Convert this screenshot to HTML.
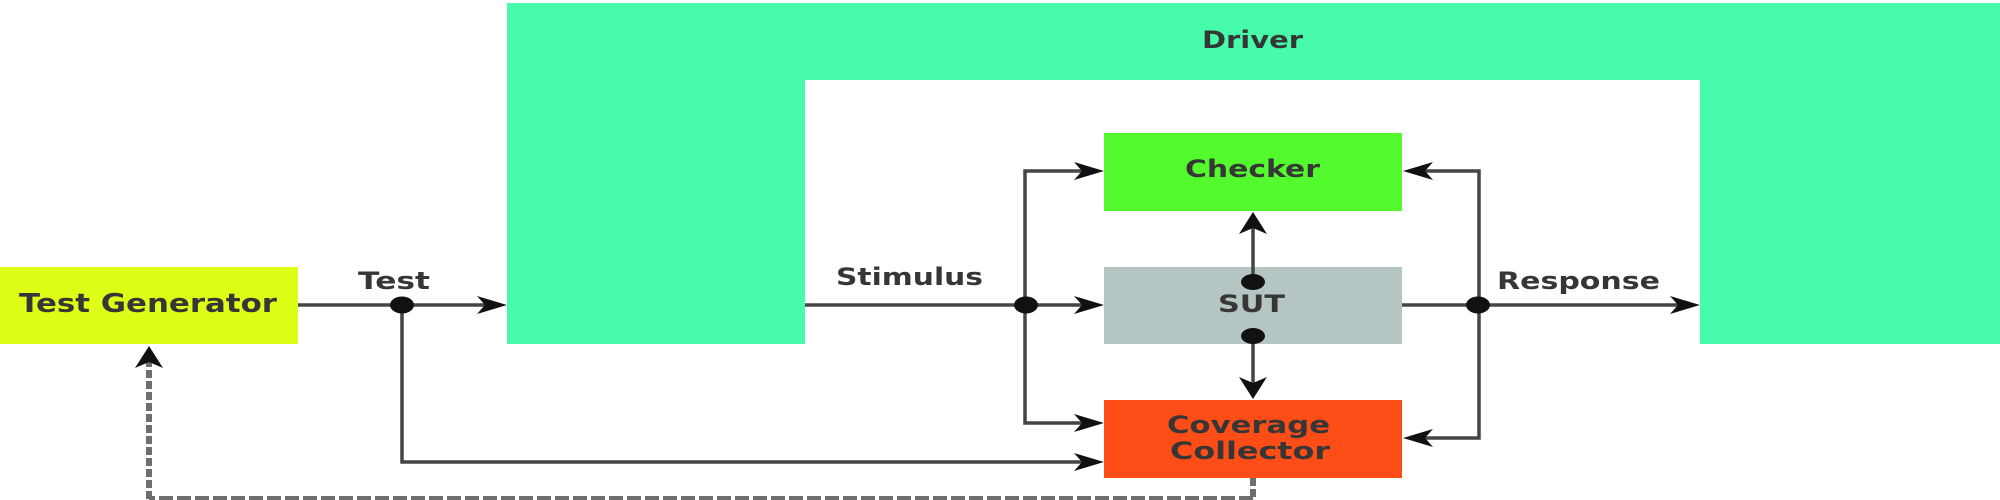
<!DOCTYPE html>
<html>
<head>
<meta charset="utf-8">
<style>
  html, body { margin: 0; padding: 0; background: #ffffff; }
  body { width: 2000px; height: 500px; overflow: hidden; }
  svg { display: block; }
  text { font-family: "DejaVu Sans", "Liberation Sans", sans-serif; font-weight: bold; fill: #363636; font-size: 24px; }
</style>
</head>
<body>
<svg width="2000" height="500" viewBox="0 0 2000 500" xmlns="http://www.w3.org/2000/svg">
  <rect x="0" y="0" width="2000" height="500" fill="#ffffff"/>

  <!-- Driver (inverted U shape) -->
  <path d="M507,3 L2000,3 L2000,344 L1700,344 L1700,80 L805,80 L805,344 L507,344 Z" fill="#46fcab"/>
  <text x="1202" y="48" textLength="101" lengthAdjust="spacingAndGlyphs">Driver</text>

  <!-- Test Generator -->
  <rect x="0" y="267" width="298" height="77" fill="#ddff17"/>
  <text x="19" y="312" textLength="258" lengthAdjust="spacingAndGlyphs" style="font-size:26px">Test Generator</text>

  <!-- Checker -->
  <rect x="1104" y="133" width="298" height="78" fill="#53fa2e"/>
  <text x="1185" y="177" textLength="135" lengthAdjust="spacingAndGlyphs">Checker</text>

  <!-- SUT -->
  <rect x="1104" y="267" width="298" height="77" fill="#b5c5c3"/>
  <text x="1218" y="312" textLength="67" lengthAdjust="spacingAndGlyphs">SUT</text>

  <!-- Coverage Collector -->
  <rect x="1104" y="400" width="298" height="78" fill="#ff4d17"/>
  <text x="1167" y="433" textLength="163" lengthAdjust="spacingAndGlyphs">Coverage</text>
  <text x="1170" y="459" textLength="160" lengthAdjust="spacingAndGlyphs">Collector</text>

  <!-- Connector lines -->
  <g stroke="#454545" stroke-width="3.5" fill="none" stroke-linejoin="miter">
    <line x1="298" y1="305" x2="490" y2="305"/>
    <polyline points="402,305 402,462 1090,462"/>
    <line x1="805" y1="305" x2="1090" y2="305"/>
    <polyline points="1090,171 1025,171 1025,423 1090,423"/>
    <line x1="1402" y1="305" x2="1686" y2="305"/>
    <polyline points="1416,171 1479,171 1479,438 1416,438"/>
    <line x1="1253" y1="282" x2="1253" y2="226"/>
    <line x1="1253" y1="336" x2="1253" y2="384"/>
  </g>

  <!-- Dashed feedback -->
  <g stroke="#6e6e6e" stroke-width="6" fill="none">
    <line x1="1253" y1="478" x2="1253" y2="499" stroke-dasharray="8,3"/>
    <line x1="1253" y1="499" x2="149" y2="499" stroke-dasharray="14,4"/>
    <line x1="149" y1="499" x2="149" y2="362" stroke-dasharray="8,3"/>
  </g>

  <!-- Arrowheads -->
  <g fill="#111">
    <polygon points="507,305 477,296 485,305 477,314"/>
    <polygon points="1104,305 1074,296 1082,305 1074,314"/>
    <polygon points="1104,171 1074,162 1082,171 1074,180"/>
    <polygon points="1104,423 1074,414 1082,423 1074,432"/>
    <polygon points="1104,462 1074,453 1082,462 1074,471"/>
    <polygon points="1700,305 1670,296 1678,305 1670,314"/>
    <polygon points="1403,171 1433,162 1425,171 1433,180"/>
    <polygon points="1403,438 1433,429 1425,438 1433,447"/>
    <polygon points="1253,212 1239,234 1253,228 1267,234"/>
    <polygon points="149,346 135,368 149,362 163,368"/>
    <polygon points="1253,399 1239,377 1253,383 1267,377"/>
  </g>

  <!-- Junction dots -->
  <g fill="#111">
    <ellipse cx="402" cy="305" rx="12" ry="8.5"/>
    <ellipse cx="1026" cy="305" rx="12" ry="8.5"/>
    <ellipse cx="1478" cy="305" rx="12" ry="8.5"/>
    <ellipse cx="1253" cy="282" rx="12" ry="8"/>
    <ellipse cx="1253" cy="336" rx="12" ry="8"/>
  </g>

  <!-- Connector labels -->
  <text x="358" y="289" textLength="72" lengthAdjust="spacingAndGlyphs">Test</text>
  <text x="836" y="285" textLength="147" lengthAdjust="spacingAndGlyphs">Stimulus</text>
  <text x="1497" y="289" textLength="163" lengthAdjust="spacingAndGlyphs">Response</text>
</svg>
</body>
</html>
